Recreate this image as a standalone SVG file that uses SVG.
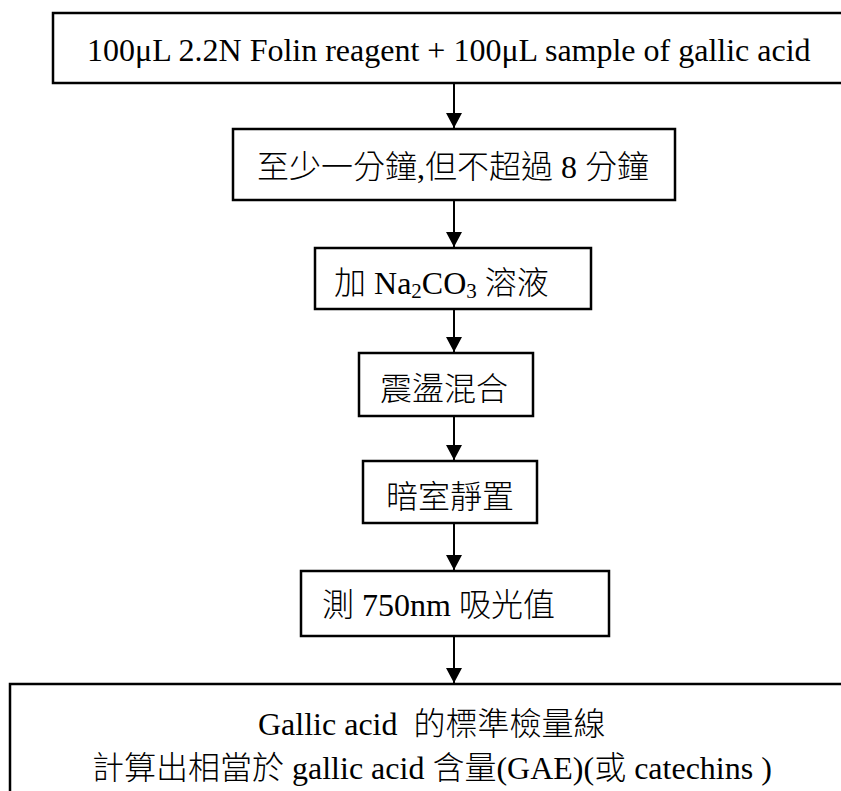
<svg xmlns="http://www.w3.org/2000/svg" width="841" height="791" viewBox="0 0 841 791">
<defs>
<style>
.box{fill:#fff;stroke:#000;stroke-width:2.5}
.t{font-family:"Liberation Serif","Noto Sans CJK TC",serif;font-size:32px;fill:#000}
.c{font-family:"Noto Sans CJK TC","Liberation Serif",sans-serif;font-weight:300;font-size:32px}
.edge{stroke:#000;stroke-width:2;fill:none}
.sub{font-size:21px}
</style>
<marker id="arr" markerWidth="16" markerHeight="16" refX="15" refY="8" orient="auto" markerUnits="userSpaceOnUse" viewBox="0 0 16 16">
<path d="M0,0 L15,8 L0,16 Z" fill="#000"/>
</marker>
</defs>
<rect width="841" height="791" fill="#fff"/>
<g id="connectors">
<line class="edge" x1="454" y1="83" x2="454" y2="128" marker-end="url(#arr)"/>
<line class="edge" x1="454" y1="200" x2="454" y2="247" marker-end="url(#arr)"/>
<line class="edge" x1="454" y1="309" x2="454" y2="352" marker-end="url(#arr)"/>
<line class="edge" x1="454" y1="416" x2="454" y2="460" marker-end="url(#arr)"/>
<line class="edge" x1="454" y1="523" x2="454" y2="570" marker-end="url(#arr)"/>
<line class="edge" x1="454" y1="636" x2="454" y2="683" marker-end="url(#arr)"/>
</g>
<g id="n1">
<rect class="box" x="53" y="13" width="800" height="70"/>
<text class="t" x="87" y="61">100μL 2.2N Folin reagent + 100μL sample of gallic acid</text>
</g>
<g id="n2">
<rect class="box" x="233" y="129" width="442" height="71"/>
<text class="t" x="257" y="178"><tspan class="c">至少一分鐘</tspan>,<tspan class="c">但不超過</tspan> 8 <tspan class="c">分鐘</tspan></text>
</g>
<g id="n3">
<rect class="box" x="315" y="248" width="276" height="61"/>
<text class="t" x="334" y="294"><tspan class="c">加</tspan> Na<tspan class="sub" dy="4">2</tspan><tspan dy="-4">CO</tspan><tspan class="sub" dy="4">3</tspan><tspan dy="-4"> </tspan><tspan class="c">溶液</tspan></text>
</g>
<g id="n4">
<rect class="box" x="359" y="353" width="174" height="63"/>
<text class="c" x="380" y="400">震盪混合</text>
</g>
<g id="n5">
<rect class="box" x="363" y="461" width="174" height="62"/>
<text class="c" x="386" y="508">暗室靜置</text>
</g>
<g id="n6">
<rect class="box" x="301" y="571" width="308" height="65"/>
<text class="t" x="322" y="616"><tspan class="c">測</tspan> 750nm <tspan class="c">吸光值</tspan></text>
</g>
<g id="n7">
<rect class="box" x="10" y="684" width="850" height="130"/>
<text class="t" x="258" y="735">Gallic acid&#160; <tspan class="c">的標準檢量線</tspan></text>
<text class="t" x="92" y="779"><tspan class="c">計算出相當於</tspan> gallic acid <tspan class="c">含量</tspan>(GAE)(<tspan class="c">或</tspan> catechins )</text>
</g>
</svg>
